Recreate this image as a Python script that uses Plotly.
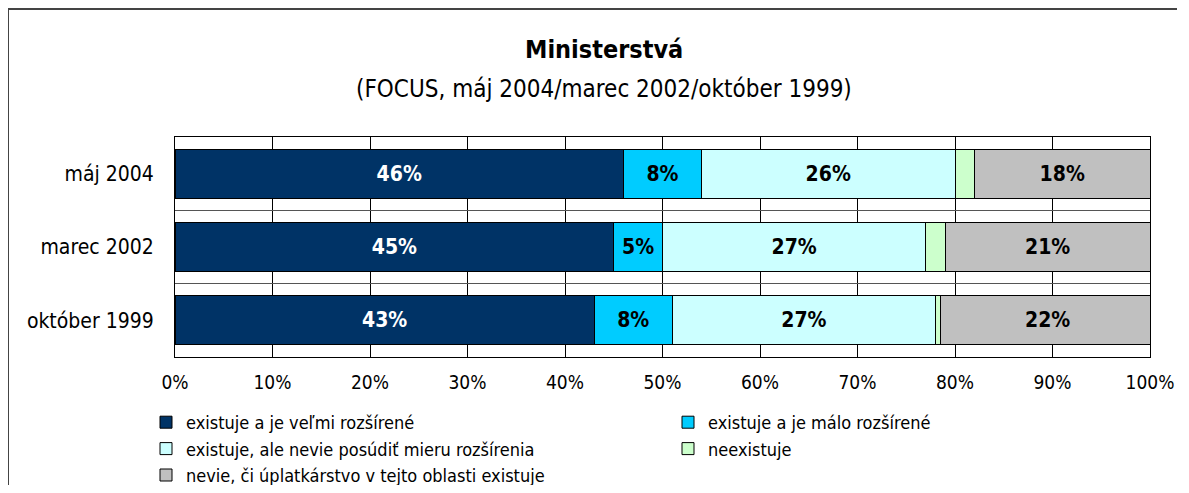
import plotly.graph_objects as go

periods = ["máj 2004", "marec 2002", "október 1999"]
series_names = [
    "existuje a je veľmi rozšírené",
    "existuje a je málo rozšírené",
    "existuje, ale nevie posúdiť mieru rozšírenia",
    "neexistuje",
    "nevie, či úplatkárstvo v tejto oblasti existuje",
]
s1 = [46, 45, 43]
s2 = [8, 5, 8]
s3 = [26, 27, 27]
s4 = [2, 2, 0.5]
s5 = [18, 21, 22]
values = [s1, s2, s3, s4, s5]
colors = ["#003366", "#00CCFF", "#CCFFFF", "#CCFFCC", "#C0C0C0"]
text_colors = ["white", "black", "black", "black", "black"]
show_text = [True, True, True, False, True]
x_ticks = [0, 10, 20, 30, 40, 50, 60, 70, 80, 90, 100]

FONT = "Liberation Sans Narrow, Arial Narrow, DejaVu Sans Condensed, sans-serif"

# page body has an 8px margin; figure coordinates = page coordinates - 8
W, H = 1173, 477
L, R, T, B = 167, 31, 129, 128
PW = W - L - R
PH = H - T - B

def px_x(p):
    return (p - L) / PW

def px_y(p):
    return (H - B - p) / PH

fig = go.Figure()
for name, vals, col, tcol, st in zip(series_names, values, colors, text_colors, show_text):
    fig.add_trace(go.Bar(
        y=periods, x=vals, name=name, orientation="h",
        marker=dict(color=col, line=dict(color="black", width=1)),
        text=[f"{v:.0f}%" for v in vals] if st else None,
        textposition="inside" if st else "none",
        insidetextanchor="middle",
        textangle=0,
        constraintext="none",
        textfont=dict(family=FONT, size=21, color=tcol, weight="bold"),
        hoverinfo="x+y+name",
    ))

fig.update_layout(
    barmode="stack",
    bargap=0.33,
    width=W, height=H,
    margin=dict(l=L, r=R, t=T, b=B, autoexpand=False),
    paper_bgcolor="white",
    plot_bgcolor="white",
    font=dict(family=FONT, size=19, color="black"),
    showlegend=True,
    legend=dict(
        orientation="h", x=px_x(138), y=px_y(396), xanchor="left", yanchor="top",
        entrywidth=477, entrywidthmode="pixels",
        font=dict(family=FONT, size=18, color="black"),
        traceorder="normal", itemclick=False, itemwidth=30,
        bgcolor="rgba(0,0,0,0)",
    ),
    xaxis=dict(
        range=[0, 100], tickvals=x_ticks, ticktext=[f"{v}%" for v in x_ticks],
        showgrid=True, gridcolor="black", gridwidth=1,
        showline=True, linecolor="black", linewidth=1, mirror=True,
        ticks="", ticklabelstandoff=8, zeroline=False,
        tickfont=dict(family=FONT, size=19),
        fixedrange=True,
    ),
    yaxis=dict(
        categoryorder="array", categoryarray=periods, autorange="reversed",
        tickson="boundaries", showgrid=True, gridcolor="#555555", gridwidth=1,
        showline=True, linecolor="black", linewidth=1, mirror=True,
        ticks="", ticklabelstandoff=16,
        tickfont=dict(family=FONT, size=21),
        fixedrange=True,
    ),
    annotations=[
        dict(text="<b>Ministerstvá</b>", xref="paper", yref="paper",
             x=px_x(596), y=px_y(42), xanchor="center", yanchor="middle",
             showarrow=False, font=dict(family=FONT, size=25, color="black")),
        dict(text="(FOCUS, máj 2004/marec 2002/október 1999)", xref="paper", yref="paper",
             x=px_x(596), y=px_y(81), xanchor="center", yanchor="middle",
             showarrow=False, font=dict(family=FONT, size=24, color="black")),
    ],
    shapes=[
        dict(type="line", xref="paper", yref="paper",
             x0=px_x(0), x1=px_x(W - 4), y0=px_y(1), y1=px_y(1),
             line=dict(color="#444444", width=2), layer="below"),
        dict(type="line", xref="paper", yref="paper",
             x0=px_x(0), x1=px_x(0), y0=px_y(1), y1=px_y(H),
             line=dict(color="#444444", width=2), layer="below"),
    ],
)

fig.write_html("out.html", config={"displayModeBar": False})
